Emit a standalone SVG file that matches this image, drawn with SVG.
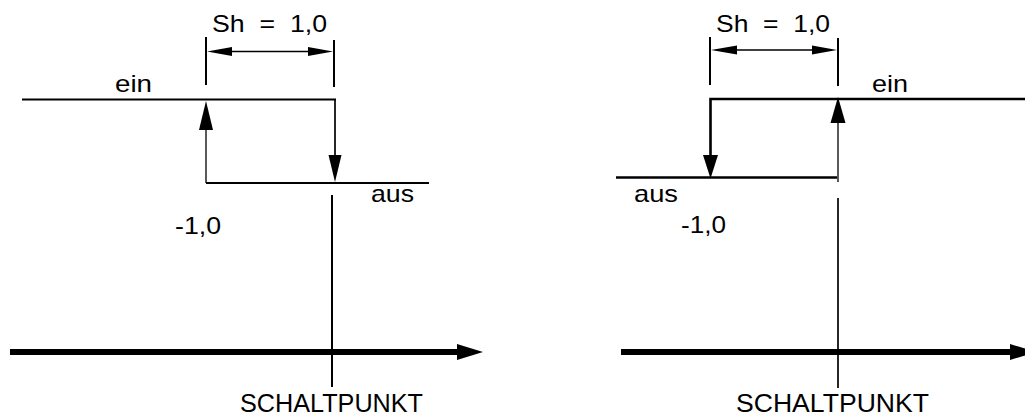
<svg xmlns="http://www.w3.org/2000/svg" width="1025" height="418" viewBox="0 0 1025 418">
<style>
  .t { font-family: "Liberation Sans", Arial, sans-serif; font-size: 24px; fill: #000; }
  .big { font-size: 26px; }
  .l2 { stroke: #000; stroke-width: 2; fill: none; }
  .l25 { stroke: #000; stroke-width: 2.6; fill: none; }
  .l1 { stroke: #000; stroke-width: 1.3; fill: none; }
  .l15 { stroke: #000; stroke-width: 1.7; fill: none; }
  .axis { stroke: #000; stroke-width: 6; fill: none; }
  .head { fill: #000; stroke: none; }
</style>
<rect width="1025" height="418" fill="#fff"/>

<g id="left-diagram">
  <g id="left-labels">
    <text class="t" x="212" y="32" textLength="115" lengthAdjust="spacingAndGlyphs" xml:space="preserve">Sh  =  1,0</text>
    <text class="t" x="115" y="92" textLength="37" lengthAdjust="spacingAndGlyphs">ein</text>
    <text class="t" x="371" y="202" textLength="43" lengthAdjust="spacingAndGlyphs">aus</text>
    <text class="t" x="175" y="234" textLength="46" lengthAdjust="spacingAndGlyphs">-1,0</text>
    <text class="t big" x="240" y="412" textLength="183" lengthAdjust="spacingAndGlyphs">SCHALTPUNKT</text>
  </g>
  <g id="left-connectors">
    <path class="l2" d="M22 99.5 H336"/>
    <path class="l2" d="M206 37 V85 M334 40 V87"/>
    <path class="l1" d="M230 51.5 H310"/>
    <polygon class="head" points="207,51.5 232,47 232,56"/>
    <polygon class="head" points="333,51.5 308,47 308,56"/>
    <path class="l1" d="M206 183 V128"/>
    <polygon class="head" points="206,101 199,130 213,130"/>
    <path class="l15" d="M335 100 V157"/>
    <polygon class="head" points="335,182 328.5,155 341.5,155"/>
    <path class="l2" d="M206 183 H429"/>
    <path class="l2" d="M332 195 V387"/>
    <path class="axis" d="M10 352 H459"/>
    <polygon class="head" points="457,344 483,352 457,360"/>
  </g>
</g>

<g id="right-diagram">
  <g id="right-labels">
    <text class="t" x="716" y="32" textLength="114" lengthAdjust="spacingAndGlyphs" xml:space="preserve">Sh  =  1,0</text>
    <text class="t" x="872" y="92" textLength="36" lengthAdjust="spacingAndGlyphs">ein</text>
    <text class="t" x="634" y="202" textLength="44" lengthAdjust="spacingAndGlyphs">aus</text>
    <text class="t" x="681" y="233" textLength="45" lengthAdjust="spacingAndGlyphs">-1,0</text>
    <text class="t big" x="736" y="412" textLength="193" lengthAdjust="spacingAndGlyphs">SCHALTPUNKT</text>
  </g>
  <g id="right-connectors">
    <path class="l2" d="M710 37 V85 M838 38 V86"/>
    <path class="l1" d="M735 50 H814"/>
    <polygon class="head" points="711,50 737,45.5 737,54.5"/>
    <polygon class="head" points="837,50 812,45.5 812,54.5"/>
    <path class="l25" d="M1025 99 H710.5 V157"/>
    <polygon class="head" points="710.5,178.5 703,155 718,155"/>
    <path class="l25" d="M616 177.5 H837"/>
    <path class="l1" d="M838 182 V121"/>
    <polygon class="head" points="838,97 830.5,123 845.5,123"/>
    <path class="l15" d="M838 198 V388"/>
    <path class="axis" d="M621 352 H1012"/>
    <polygon class="head" points="1010,344 1036,352 1010,360"/>
  </g>
</g>
</svg>
